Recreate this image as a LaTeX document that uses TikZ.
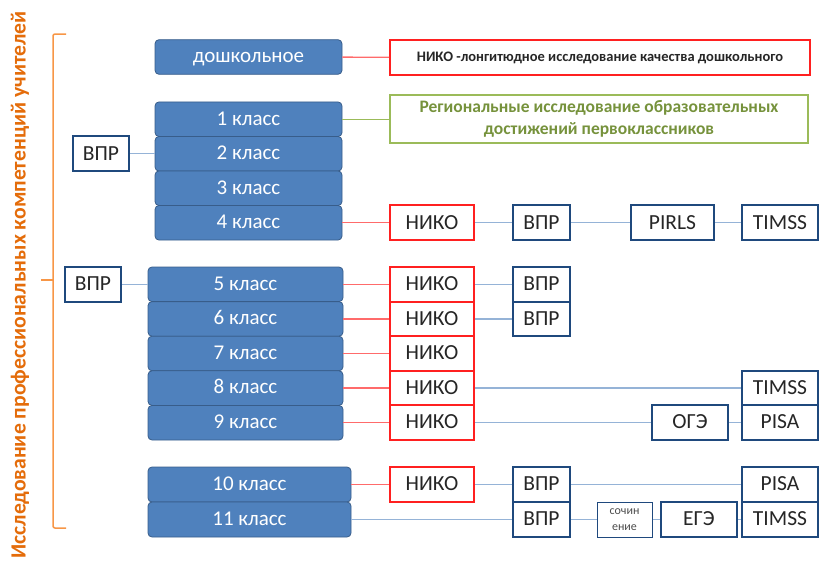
\documentclass[tikz,border=0pt]{standalone}
\usepackage{fontspec}
\setmainfont{Carlito}

\definecolor{klassfill}{HTML}{4F81BD}
\definecolor{klassline}{HTML}{385D8A}
\definecolor{testline}{HTML}{1F497D}
\definecolor{linkblue}{HTML}{95B3D7}
\definecolor{nikored}{HTML}{FF2020}
\definecolor{linkred}{HTML}{FF6B6B}
\definecolor{regline}{HTML}{9BBB59}
\definecolor{regtext}{HTML}{76923C}
\definecolor{bracecol}{HTML}{F79646}
\definecolor{titlecol}{HTML}{E46C0A}

\tikzset{
  klass/.style={rounded corners=4pt, fill=klassfill, draw=klassline, line width=0.8pt,
    text=white, font=\fontsize{21}{21}\selectfont, inner sep=0pt, minimum height=34.6pt,
    text height=13.5pt, text depth=2pt},
  niko/.style={draw=nikored, line width=2pt, fill=white, text=black!85,
    font=\fontsize{21.5}{21.5}\selectfont, inner sep=0pt, minimum width=84pt, minimum height=34.6pt,
    text height=13.5pt, text depth=1pt},
  testbox/.style={draw=testline, line width=2pt, fill=white, text=black!85,
    font=\fontsize{21.5}{21.5}\selectfont, inner sep=0pt, minimum height=34.6pt,
    text height=13.5pt, text depth=1pt},
  bluelink/.style={linkblue, line width=1.3pt},
  redlink/.style={linkred, line width=1.3pt},
}

\begin{document}
\begin{tikzpicture}[x=1pt,y=-1pt]
            \useasboundingbox (0,0) rectangle (820,565);
            % title and bracket
            \node [rotate=90, text=titlecol, font=\bfseries\fontsize{21.7}{21.7}\selectfont] (title) at (20,285) {Исследование профессиональных компетенций учителей};
            \draw [bracecol, line width=1.5pt, rounded corners=2pt] (66,34) -- (53,34) -- (53,528) -- (66,528);
            \draw [bracecol, line width=1.5pt] (53,280) -- (41,280);
            % preschool
            \node [klass, minimum width=187pt] (pre) at (248.5,57) {дошкольное};
            \node [niko, minimum width=420pt, minimum height=35pt, font=\bfseries\fontsize{14.5}{14.5}\selectfont, text height=9pt, text depth=1pt] (nikopre) at (600,57.5) {НИКО -лонгитюдное исследование качества дошкольного};
            \draw [redlink] (pre) -- (nikopre);
            % 1-4 klass
            \node [klass, minimum width=187pt] (k1) at (248.5,119.25) {1 класс};
            \node [klass, minimum width=187pt] (k2) at (248.5,153.75) {2 класс};
            \node [klass, minimum width=187pt] (k3) at (248.5,188.25) {3 класс};
            \node [klass, minimum width=187pt] (k4) at (248.5,222.75) {4 класс};
            \node [draw=regline, line width=2pt, minimum width=418pt, minimum height=48pt, align=center, text=regtext, font=\bfseries\fontsize{17.5}{22}\selectfont] (reg) at (599,119.25) {Региональные исследование образовательных\\достижений первоклассников};
            \draw [regline, line width=1.3pt] (k1) -- (reg);
            \node [testbox, minimum width=56pt] (vprtop) at (101,153.75) {ВПР};
            \draw [bluelink] (vprtop) -- (k2);
            % 4 klass row
            \node [niko] (niko4) at (432,222.75) {НИКО};
            \node [testbox, minimum width=57pt] (vpr4) at (541.5,222.75) {ВПР};
            \node [testbox, minimum width=83pt] (pirls4) at (672.5,222.75) {PIRLS};
            \node [testbox, minimum width=76pt] (timss4) at (780,222.75) {TIMSS};
            \draw [redlink] (k4) -- (niko4);
            \draw [bluelink] (niko4) -- (vpr4);
            \draw [bluelink] (vpr4) -- (pirls4);
            \draw [bluelink] (pirls4) -- (timss4);
            % 5-9 klass
            \node [klass, minimum width=195pt] (k5) at (245.5,284.3) {5 класс};
            \node [klass, minimum width=195pt] (k6) at (245.5,318.9) {6 класс};
            \node [klass, minimum width=195pt] (k7) at (245.5,353.5) {7 класс};
            \node [klass, minimum width=195pt] (k8) at (245.5,388.1) {8 класс};
            \node [klass, minimum width=195pt] (k9) at (245.5,422.7) {9 класс};
            \node [testbox, minimum width=56pt] (vprmid) at (93,284.3) {ВПР};
            \draw [bluelink] (vprmid) -- (k5);
            \node [niko] (niko5) at (432,284.3) {НИКО};
            \node [niko] (niko6) at (432,318.9) {НИКО};
            \node [niko] (niko7) at (432,353.5) {НИКО};
            \node [niko] (niko8) at (432,388.1) {НИКО};
            \node [niko] (niko9) at (432,422.7) {НИКО};
            \draw [redlink] (k5) -- (niko5);
            \draw [redlink] (k6) -- (niko6);
            \draw [redlink] (k7) -- (niko7);
            \draw [redlink] (k8) -- (niko8);
            \draw [redlink] (k9) -- (niko9);
            \node [testbox, minimum width=57pt] (vpr5) at (541.5,284.3) {ВПР};
            \node [testbox, minimum width=57pt] (vpr6) at (541.5,318.9) {ВПР};
            \draw [bluelink] (niko5) -- (vpr5);
            \draw [bluelink] (niko6) -- (vpr6);
            \node [testbox, minimum width=76pt] (timss8) at (780,388.1) {TIMSS};
            \draw [bluelink] (niko8) -- (timss8);
            \node [testbox, minimum width=76pt] (oge9) at (690,422.7) {ОГЭ};
            \node [testbox, minimum width=76pt] (pisa9) at (780,422.7) {PISA};
            \draw [bluelink] (niko9) -- (oge9);
            \draw [bluelink] (oge9) -- (pisa9);
            % 10-11 klass
            \node [klass, minimum width=203pt, minimum height=35pt] (k10) at (249.5,484.5) {10 класс};
            \node [klass, minimum width=203pt, minimum height=35pt] (k11) at (249.5,519.5) {11 класс};
            \node [niko] (niko10) at (432,484.5) {НИКО};
            \node [testbox, minimum width=57pt, minimum height=35pt] (vpr10) at (541.5,484.5) {ВПР};
            \node [testbox, minimum width=76pt, minimum height=35pt] (pisa10) at (780,484.5) {PISA};
            \draw [redlink] (k10) -- (niko10);
            \draw [bluelink] (niko10) -- (vpr10);
            \draw [bluelink] (vpr10) -- (pisa10);
            \node [testbox, minimum width=57pt, minimum height=35pt] (vpr11) at (541.5,519.5) {ВПР};
            \node [draw=testline, line width=1pt, minimum width=55pt, minimum height=35pt, inner sep=0pt, align=center, text=black!70, font=\fontsize{12}{16}\selectfont] (essay11) at (624.5,519.5) {сочин\\ение};
            \node [testbox, minimum width=76pt, minimum height=35pt] (ege11) at (699,519.5) {ЕГЭ};
            \node [testbox, minimum width=76pt, minimum height=35pt] (timss11) at (780,519.5) {TIMSS};
            \draw [bluelink] (k11) -- (vpr11);
            \draw [bluelink] (vpr11) -- (essay11);
            \draw [bluelink] (essay11) -- (ege11);
            \draw [bluelink] (ege11) -- (timss11);
\end{tikzpicture}
\end{document}
